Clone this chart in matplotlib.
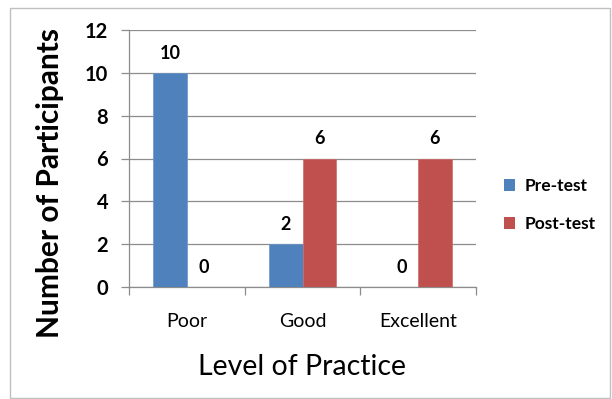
import matplotlib.pyplot as plt
import numpy as np
from matplotlib.patches import Rectangle, Patch

plt.rcParams['font.family'] = ['Lato', 'DejaVu Sans']

categories = ["Poor", "Good", "Excellent"]
pre_test = [10, 2, 0]
post_test = [0, 6, 6]
series_names = ["Pre-test", "Post-test"]
y_ticks = [0, 2, 4, 6, 8, 10, 12]

blue = "#4F81BD"
red = "#C0504D"
grid_col = "#8C8C8C"

W, H = 612, 399
fig = plt.figure(figsize=(W / 100, H / 100), dpi=100)
# outer chart frame like the spreadsheet chart area
fig.patches.append(Rectangle((10 / W, 0.002), 600 / W, 1 - 8 / H - 0.002,
                             transform=fig.transFigure, fill=False,
                             edgecolor="#BFBFBF", linewidth=1))

ax = fig.add_axes([129 / W, 1 - 287 / H, 347 / W, 257 / H])

x = np.arange(len(categories))
w = 0.29
b1 = ax.bar(x - w / 2, pre_test, w, color=blue, edgecolor="#6A95CB", linewidth=0.5, zorder=3)
b2 = ax.bar(x + w / 2, post_test, w, color=red, edgecolor="#D06A67", linewidth=0.5, zorder=3)

for bars, vals in ((b1, pre_test), (b2, post_test)):
    for bar, v in zip(bars, vals):
        ax.annotate(str(v), (bar.get_x() + bar.get_width() / 2, v),
                    xytext=(0, 8), textcoords="offset points",
                    ha="center", va="bottom", fontsize=13, fontweight="bold")

ax.set_xlim(-0.5, len(categories) - 0.5)
ax.set_ylim(0, 12)
ax.set_yticks(y_ticks)
ax.set_yticklabels([str(t) for t in y_ticks], fontsize=14.5, fontweight="bold")
ax.yaxis.grid(True, color=grid_col, linewidth=0.9, zorder=0)
ax.set_axisbelow(True)

ax.set_xticks(x)
ax.set_xticklabels(categories, fontsize=14)
ax.set_xticks(np.arange(len(categories) + 1) - 0.5, minor=True)
ax.tick_params(axis="x", which="major", length=0, pad=19)
ax.tick_params(axis="x", which="minor", length=6, color=grid_col, width=0.9)
ax.tick_params(axis="y", length=6, color=grid_col, width=0.9, pad=9)

for s in ("top", "right"):
    ax.spines[s].set_visible(False)
for s in ("left", "bottom"):
    ax.spines[s].set_color(grid_col)
    ax.spines[s].set_linewidth(0.9)

fig.text(302 / W, 1 - 367 / H, "Level of Practice", fontsize=20.5,
         ha="center", va="center")
fig.text(50 / W, 1 - 183 / H, "Number of Participants", fontsize=21.5,
         fontweight="bold", rotation=90, ha="center", va="center")

handles = [Patch(facecolor=blue), Patch(facecolor=red)]
fig.legend(handles, series_names, loc="center left",
           bbox_to_anchor=(488 / W, 1 - 205 / H), frameon=False,
           prop={"size": 12.5, "weight": "bold"},
           handlelength=0.65, handleheight=0.65, handletextpad=0.55,
           labelspacing=1.25)

fig.savefig("out.png", dpi=100)
